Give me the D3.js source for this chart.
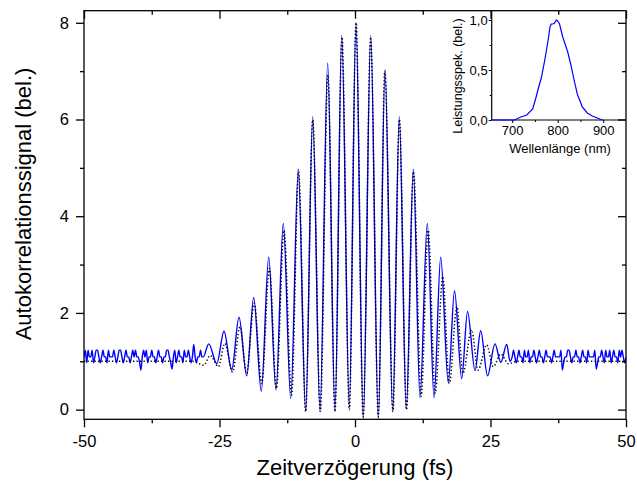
<!DOCTYPE html>
<html><head><meta charset="utf-8">
<script src="https://cdn.jsdelivr.net/npm/d3@7"></script>
<style>body{margin:0;background:#fff}svg{display:block}text{font-family:"Liberation Sans",Arial,sans-serif;fill:#000}</style>
</head><body><svg id="c" width="637" height="490"></svg>
<script>
// ---- main chart data ----
const xMajor = [-50, -25, 0, 25, 50];
const xMinor = [-37.5, -12.5, 12.5, 37.5];
const yMajor = [0, 2, 4, 6, 8];
const yMinor = [1, 3, 5, 7];
const xTitle = "Zeitverzögerung (fs)";
const yTitle = "Autokorrelationssignal (bel.)";

// measured signal: peaks and troughs of fringes (time fs, value)
const blueExtT = [-26.99,-25.5,-24.17,-22.75,-21.40,-19.98,-18.69,-17.29,-15.92,-14.58,-13.23,-11.86,-10.46,-9.10,-7.80,-6.46,-5.04,-3.69,-2.45,-1.05,0.18,1.53,2.90,4.30,5.54,6.96,8.17,9.46,10.76,11.99,13.34,14.58,15.81,17.21,18.36,19.69,20.76,22.14,23.19,24.45,25.83,26.9,28.0,28.6];
const blueExtV = [1.36,0.95,1.62,0.82,1.91,0.70,2.32,0.38,3.15,0.41,3.85,0.23,4.97,-0.04,6.06,-0.04,7.17,-0.04,7.74,0.06,8.0,-0.18,7.74,-0.18,7.03,-0.04,6.06,0.01,4.97,0.25,3.85,0.25,3.15,0.56,2.46,0.64,2.03,0.81,1.63,0.70,1.36,0.98,1.35,1.0];
// baseline noise, sampled every 0.25 fs
const noiseLeftStart = -50, noiseRightStart = 29, noiseStep = 0.25;
const noiseLeft = [
1.09,1.23,0.97,1.23,1.09,1.09,1.23,0.97,1.09,1.23,
1.23,1.09,0.97,1.09,1.23,1.09,1.09,0.97,1.23,1.09,
1.09,1.09,1.23,1.09,0.97,1.09,1.23,1.23,1.09,0.97,
1.09,1.23,1.09,1.09,0.97,1.09,1.23,1.09,1.23,1.09,
1.09,0.97,0.82,1.09,1.23,1.09,1.23,0.97,1.09,1.09,
1.23,1.09,1.09,0.97,1.09,1.23,1.09,1.09,0.97,1.09,
1.09,1.23,1.23,1.09,0.97,0.84,1.09,1.23,0.97,1.09,
1.23,1.09,1.09,0.97,1.23,1.09,1.09,1.23,1.09,0.97,
1.09,1.35,1.09,0.97,1.09,1.09,1.23,1.09,1.09];
const noiseRight = [
1.09,1.23,1.09,0.97,1.09,1.23,1.09,1.09,0.97,1.23,
1.09,1.09,1.23,0.97,1.09,1.09,1.23,1.09,0.97,1.09,
1.23,1.09,1.09,0.97,1.09,1.23,1.09,1.09,1.09,0.97,
1.09,1.23,1.09,1.09,1.09,1.09,1.23,0.82,0.97,1.09,
1.09,1.23,1.23,1.09,0.97,1.09,1.09,1.23,1.09,1.09,
0.97,1.09,1.23,1.09,1.09,0.97,1.23,1.09,1.09,1.09,
1.09,1.23,0.84,0.97,1.09,1.09,1.23,1.09,0.97,1.23,
1.09,1.09,1.23,0.97,1.09,1.23,1.09,1.09,0.97,1.23,
1.09,1.23,1.09,0.97,1.09];

// fitted curve: peaks and troughs (time fs, value)
const fitT = [-50,-30,-27.9,-26.7,-25.2,-24.0,-22.6,-21.2,-20.0,-18.6,-17.2,-15.8,-14.5,-13.1,-11.7,-10.4,-9.1,-7.8,-6.4,-5.0,-3.7,-2.4,-1.05,0.2,1.5,2.9,4.3,5.5,7.0,8.2,9.5,10.8,12.2,13.5,14.8,16.2,17.4,18.8,19.9,21.5,22.7,24.3,25.5,26.9,28.3,30,50];
const fitV = [1.0,1.0,0.92,1.12,0.89,1.37,0.78,1.71,0.75,2.20,0.54,2.92,0.44,3.71,0.30,4.92,-0.04,5.99,-0.04,6.92,-0.04,7.70,0.0,8.0,-0.15,7.70,-0.15,7.0,-0.04,6.0,0.0,4.92,0.27,3.71,0.34,2.75,0.54,2.13,0.75,1.65,0.82,1.34,0.89,1.15,0.95,1.0,1.0];

// ---- inset data ----
const specWl = [655,700,705,719,732,745,752,757,764,772,779,783,786,790,793,797,800,804,811,822,829,836,843,854,865,876,887,895,900];
const specVal = [0,0,0.0,0.03,0.05,0.11,0.22,0.31,0.42,0.61,0.80,0.93,0.96,0.96,0.97,1.0,0.99,0.96,0.83,0.68,0.55,0.40,0.26,0.13,0.07,0.04,0.02,0.005,0];
const insetXTicks = [700, 800, 900];
const insetXMinor = [750, 850];
const insetYTicks = [0, 0.5, 1.0];
const insetYMinor = [0.25, 0.75];
const insetXTitle = "Wellenlänge (nm)";
const insetYTitle = "Leistungsspek. (bel.)";

// ---- drawing ----
const svg = d3.select("#c");
const L = 84, R = 626, T = 10.7, B = 419.3;
const x = d3.scaleLinear([-50, 50], [L, R]);
const y = d3.scaleLinear([-0.2, 8.25], [B, T]);

svg.append("defs").append("clipPath").attr("id","clip")
  .append("rect").attr("x",L).attr("y",T).attr("width",R-L).attr("height",B-T);

// assemble measured series
const blue = [];
noiseLeft.forEach((v,i)=>blue.push([noiseLeftStart + i*noiseStep, v]));
blueExtT.forEach((t,i)=>blue.push([t, blueExtV[i]]));
noiseRight.forEach((v,i)=>blue.push([noiseRightStart + i*noiseStep, v]));
blue.sort((a,b)=>a[0]-b[0]);
const fit = fitT.map((t,i)=>[t, fitV[i]]);

const line = d3.line().x(d=>x(d[0])).y(d=>y(d[1])).curve(d3.curveMonotoneX);
const g = svg.append("g").attr("clip-path","url(#clip)");
g.append("path").attr("d", line(blue)).attr("fill","none").attr("stroke","#0000ff").attr("stroke-width",1.4).attr("stroke-linejoin","round");
g.append("path").attr("d", line(fit)).attr("fill","none").attr("stroke","#000").attr("stroke-width",1.5).attr("stroke-dasharray","1.3,2.2");

// axes
const plain = d => String(d);
function styleAxis(sel){ sel.select(".domain").remove(); sel.selectAll("line").attr("stroke","#000").attr("stroke-width",1.3); sel.selectAll("text").style("font-size","16.5px").attr("fill","#000"); }
svg.append("g").attr("transform",`translate(0,${B})`).call(d3.axisBottom(x).tickValues(xMajor).tickSize(8).tickPadding(8).tickFormat(plain)).call(styleAxis);
svg.append("g").attr("transform",`translate(0,${B})`).call(d3.axisBottom(x).tickValues(xMinor).tickSize(4).tickFormat("")).call(styleAxis);
svg.append("g").attr("transform",`translate(0,${T})`).call(d3.axisBottom(x).tickValues(xMajor).tickSize(8).tickFormat("")).call(styleAxis);
svg.append("g").attr("transform",`translate(0,${T})`).call(d3.axisBottom(x).tickValues(xMinor).tickSize(4).tickFormat("")).call(styleAxis);
svg.append("g").attr("transform",`translate(${L},0)`).call(d3.axisLeft(y).tickValues(yMajor).tickSize(8).tickPadding(7).tickFormat(plain)).call(styleAxis);
svg.append("g").attr("transform",`translate(${L},0)`).call(d3.axisLeft(y).tickValues(yMinor).tickSize(4).tickFormat("")).call(styleAxis);
svg.append("g").attr("transform",`translate(${R},0)`).call(d3.axisLeft(y).tickValues(yMajor).tickSize(8).tickFormat("")).call(styleAxis);
svg.append("g").attr("transform",`translate(${R},0)`).call(d3.axisLeft(y).tickValues(yMinor).tickSize(4).tickFormat("")).call(styleAxis);
svg.append("rect").attr("x",L).attr("y",T).attr("width",R-L).attr("height",B-T).attr("fill","none").attr("stroke","#000").attr("stroke-width",1.3);

svg.append("text").attr("x",355).attr("y",475).attr("text-anchor","middle").style("font-size","22px").text(xTitle);
svg.append("text").attr("transform","translate(31,204) rotate(-90)").attr("text-anchor","middle").style("font-size","22px").text(yTitle);

// inset
const iL = 491.7, iR = R, iT = T, iB = 120;
const ix = d3.scaleLinear([655, 950], [iL, iR]);
const iy = d3.scaleLinear([0, 1.093], [iB, iT]);
const ig = svg.append("g");
const comma = d3.formatLocale({decimal:",", thousands:".", grouping:[3], currency:["","€"]}).format(".1f");
function styleInset(sel){ sel.select(".domain").remove(); sel.selectAll("line").attr("stroke","#000").attr("stroke-width",1); sel.selectAll("text").style("font-size","13px").attr("fill","#000"); }
ig.append("g").attr("transform",`translate(${iL},0)`).call(d3.axisLeft(iy).tickValues(insetYTicks).tickSize(3).tickPadding(1).tickFormat(comma)).call(styleInset);
ig.append("g").attr("transform",`translate(${iL},0)`).call(d3.axisLeft(iy).tickValues(insetYMinor).tickSize(2).tickFormat("")).call(styleInset);
ig.append("g").attr("transform",`translate(0,${iB})`).call(d3.axisBottom(ix).tickValues(insetXTicks).tickSize(3).tickPadding(3).tickFormat(d3.format("d"))).call(styleInset);
ig.append("g").attr("transform",`translate(0,${iB})`).call(d3.axisBottom(ix).tickValues(insetXMinor).tickSize(2).tickFormat("")).call(styleInset);
ig.append("line").attr("x1",iL).attr("x2",iL).attr("y1",iT).attr("y2",iB).attr("stroke","#000").attr("stroke-width",1.2);
ig.append("line").attr("x1",iL).attr("x2",iR).attr("y1",iB).attr("y2",iB).attr("stroke","#000").attr("stroke-width",1.2);
const sline = d3.line().x((d,i)=>ix(specWl[i])).y(d=>iy(d));
ig.append("path").attr("d", sline(specVal)).attr("fill","none").attr("stroke","#0000ff").attr("stroke-width",1.2);
ig.append("text").attr("x",560).attr("y",153).attr("text-anchor","middle").style("font-size","13px").text(insetXTitle);
ig.append("text").attr("transform","translate(462,76) rotate(-90)").attr("text-anchor","middle").style("font-size","12.5px").text(insetYTitle);
</script></body></html>
